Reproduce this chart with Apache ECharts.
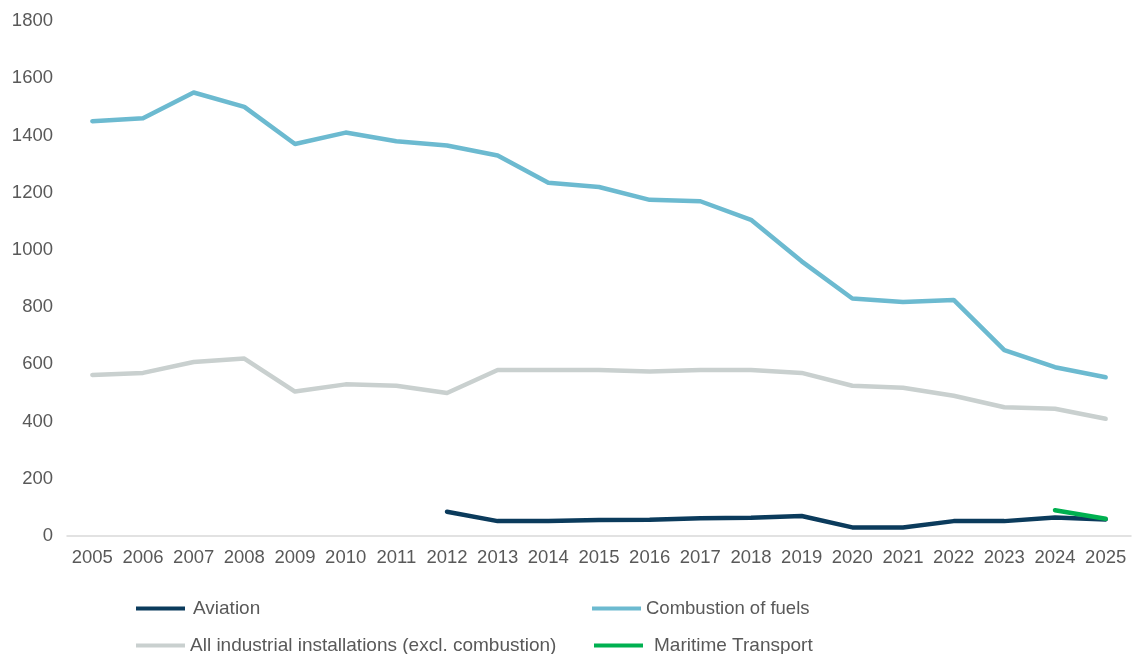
<!DOCTYPE html>
<html>
<head>
<meta charset="utf-8">
<title>Emissions by sector, 2005–2025</title>
<script src="https://cdn.jsdelivr.net/npm/echarts@6/dist/echarts.min.js"></script>
<style>
  html, body { margin: 0; padding: 0; background: #ffffff; }
  #chart { width: 1132px; height: 654px; }
</style>
</head>
<body>
<div id="chart"></div>
<script>
// Years on the category axis
const years = ['2005','2006','2007','2008','2009','2010','2011','2012','2013','2014','2015',
               '2016','2017','2018','2019','2020','2021','2022','2023','2024','2025'];

// Series values (null where a sector is not covered)
const aviation = [null, null, null, null, null, null, null,
                  85, 52, 52, 56, 57, 62, 64, 70, 30, 30, 52, 52, 65, 58];
const combustion = [1450, 1460, 1550, 1500, 1370, 1410, 1380, 1365, 1330, 1235, 1220,
                    1175, 1170, 1105, 960, 830, 818, 825, 650, 590, 555];
const industrial = [563, 570, 608, 620, 505, 530, 525, 500, 580, 580, 580,
                    575, 580, 580, 570, 525, 518, 490, 450, 445, 410];
const maritime = [null, null, null, null, null, null, null, null, null, null, null,
                  null, null, null, null, null, null, null, null, 90, 60];

// Y-axis range
const yMin = 0, yMax = 1800, yStep = 200;

const names = {
  aviation: 'Aviation',
  combustion: 'Combustion of fuels',
  industrial: 'All industrial installations (excl. combustion)',
  maritime: 'Maritime Transport'
};
const colors = {
  aviation: '#0b3b5c',
  combustion: '#6cbad0',
  industrial: '#c9d0cf',
  maritime: '#00b050'
};

const textColor = '#595959';
const fontFamily = '"Liberation Sans", Arial, sans-serif';

function lineSeries(key, data, z) {
  return {
    name: names[key],
    type: 'line',
    data: data,
    symbol: 'none',
    connectNulls: false,
    z: z,
    lineStyle: { color: colors[key], width: 4.5, cap: 'round', join: 'round' },
    itemStyle: { color: colors[key] },
    emphasis: { disabled: true }
  };
}

function legendAt(key, left, top, textPad, size) {
  return {
    data: [names[key]],
    left: left,
    top: top,
    padding: 0,
    icon: 'rect',
    itemWidth: 49,
    itemHeight: 4,
    itemGap: 0,
    selectedMode: false,
    textStyle: {
      color: textColor,
      fontSize: size,
      fontFamily: fontFamily,
      padding: [0, 0, 0, textPad]
    }
  };
}

const chart = echarts.init(document.getElementById('chart'), null, { renderer: 'canvas' });
chart.setOption({
  animation: false,
  backgroundColor: '#ffffff',
  grid: { left: 67, right: 1, top: 21, bottom: 118, containLabel: false },
  xAxis: {
    type: 'category',
    data: years,
    boundaryGap: true,
    axisLine: { show: true, lineStyle: { color: '#d9d9d9', width: 1.5 } },
    axisTick: { show: false },
    axisLabel: { color: textColor, fontSize: 18.5, fontFamily: fontFamily, margin: 12, interval: 0 }
  },
  yAxis: {
    type: 'value',
    min: yMin,
    max: yMax,
    interval: yStep,
    splitLine: { show: false },
    axisLine: { show: false },
    axisTick: { show: false },
    axisLabel: {
      color: textColor, fontSize: 18.5, fontFamily: fontFamily, margin: 14,
      formatter: (v) => String(v)
    }
  },
  legend: [
    legendAt('aviation', 136, 599, 3, 19),
    legendAt('combustion', 592, 599, 0, 18.5),
    legendAt('industrial', 136, 636, 0, 19),
    legendAt('maritime', 594, 636, 6, 19)
  ],
  series: [
    lineSeries('industrial', industrial, 2),
    lineSeries('combustion', combustion, 3),
    lineSeries('aviation', aviation, 4),
    lineSeries('maritime', maritime, 5)
  ]
});
</script>
</body>
</html>
